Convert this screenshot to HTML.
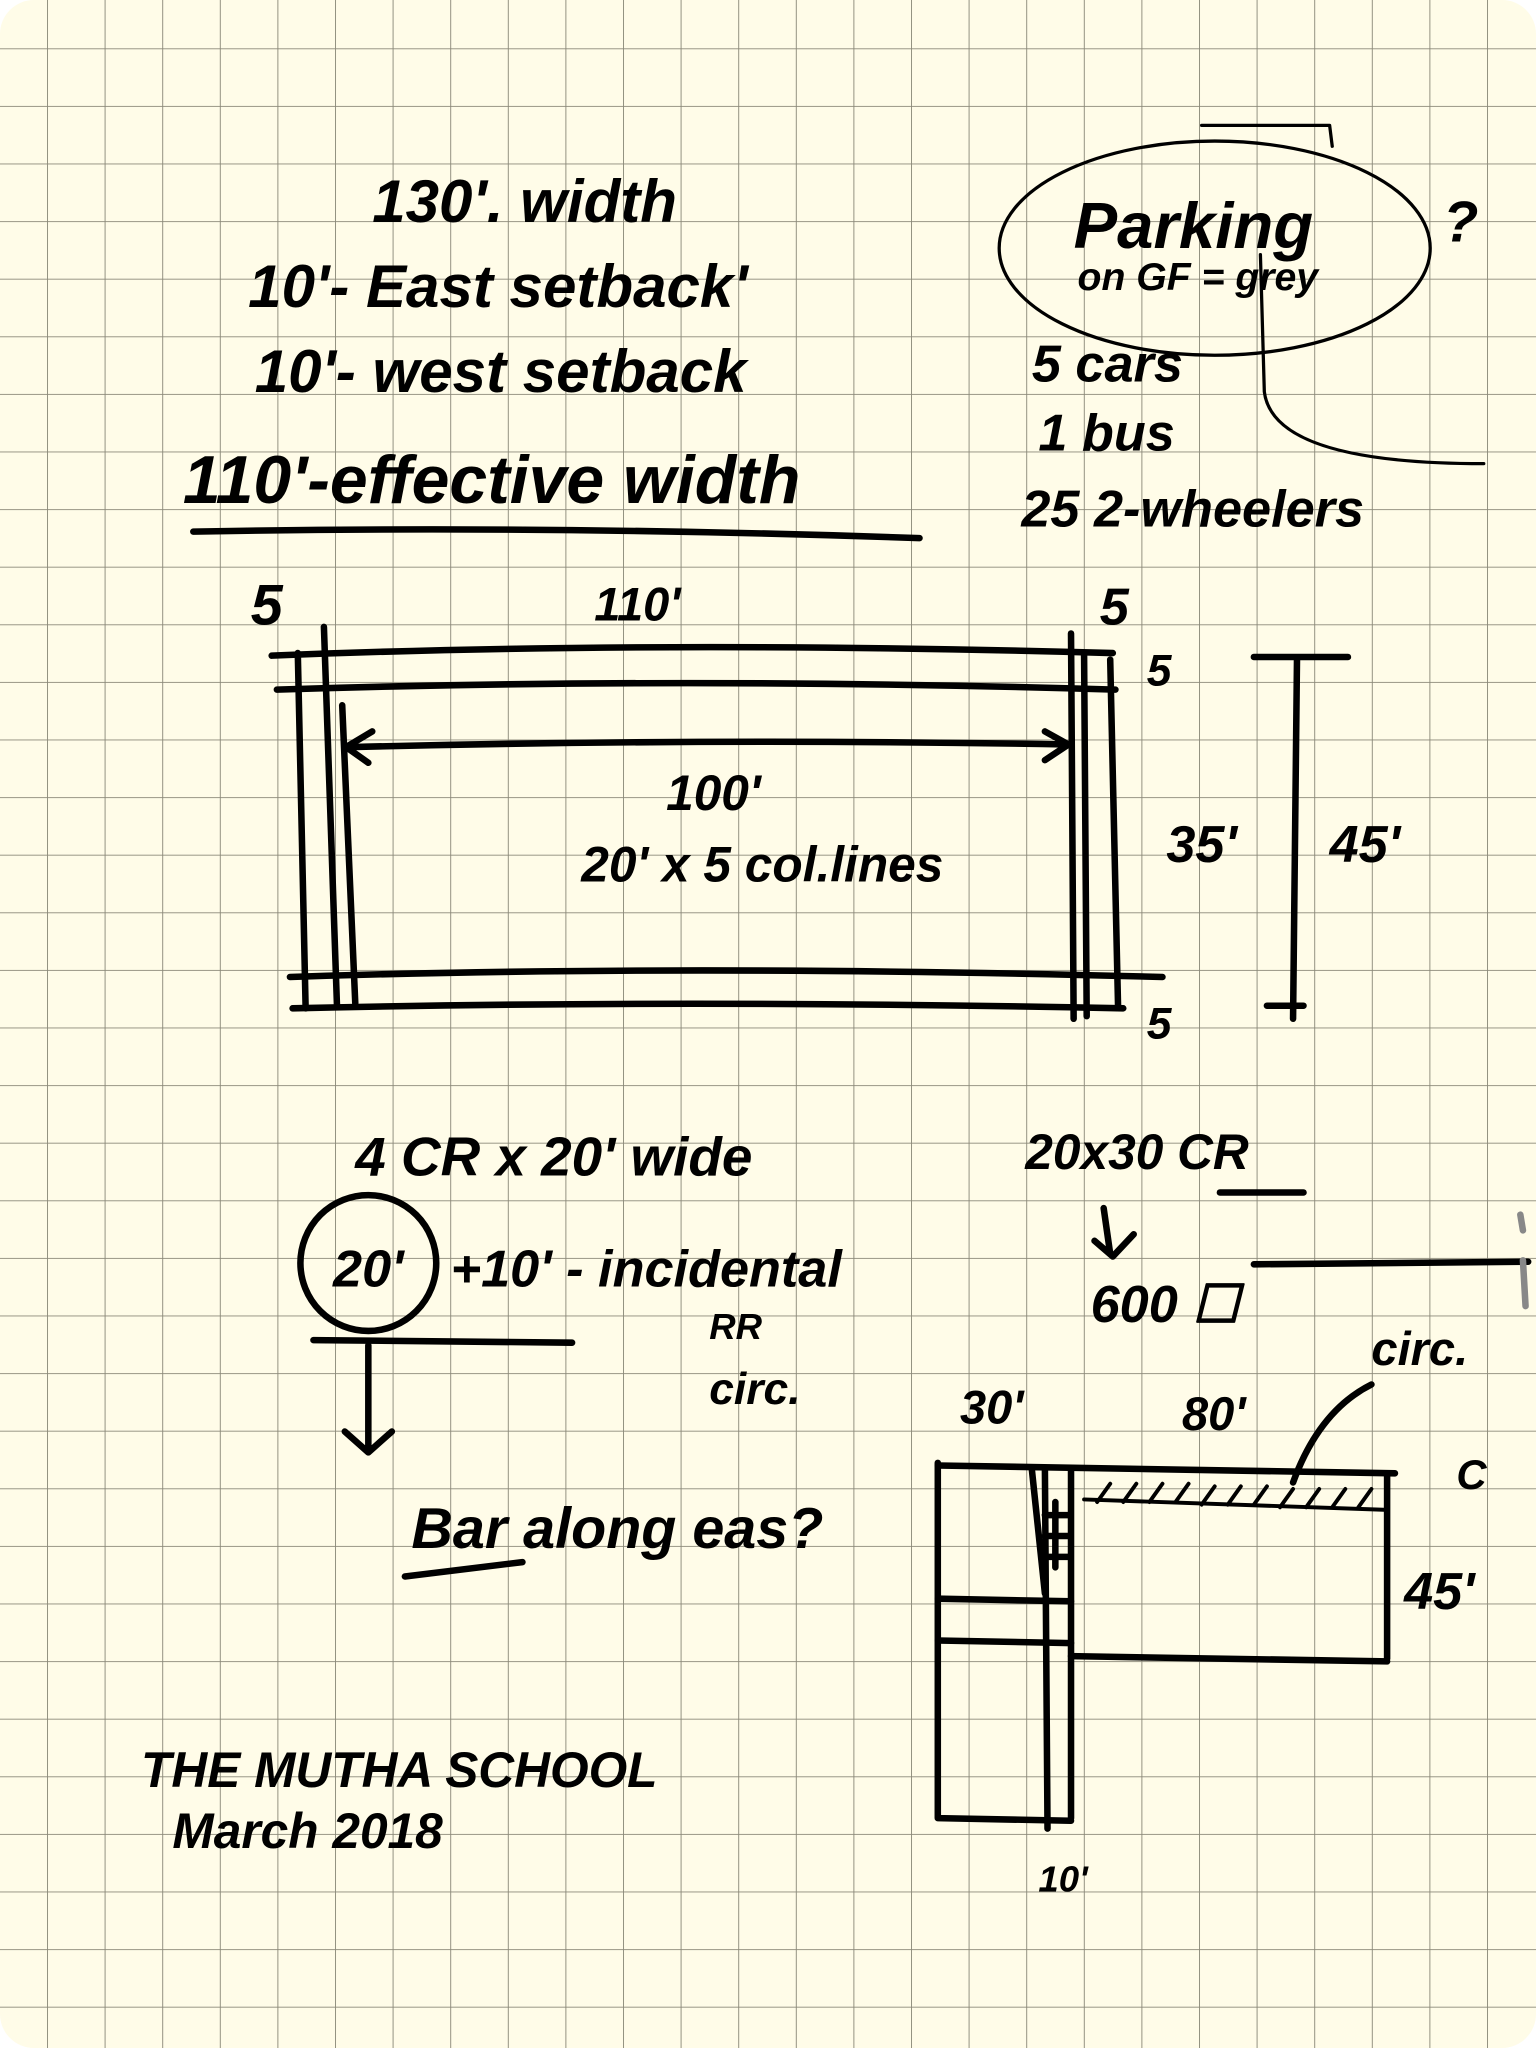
<!DOCTYPE html>
<html><head><meta charset="utf-8"><style>
html,body{margin:0;padding:0;background:#fff;}
svg{display:block;}
text{font-family:"Liberation Sans",sans-serif;font-style:italic;font-weight:bold;fill:#000;}
</style></head><body>
<svg width="1536" height="2048" viewBox="0 0 1176 1568" xmlns="http://www.w3.org/2000/svg">
<defs>
<pattern id="g" x="36" y="37" width="44.1" height="44.1" patternUnits="userSpaceOnUse">
<path d="M0 0H44.1M0 0V44.1" stroke="#8a8878" stroke-width="1.4" fill="none"/>
</pattern>
<clipPath id="c"><rect x="0" y="0" width="1176" height="1568" rx="26"/></clipPath>
</defs>
<g clip-path="url(#c)">
<rect width="1176" height="1568" fill="#fffce8"/>
<rect width="1176" height="1568" fill="url(#g)"/>
</g>
<g fill="none" stroke="#000" stroke-width="5" stroke-linecap="round" stroke-linejoin="round">
<!-- underline -->
<path d="M148 407 Q420 402 704 412"/>
<!-- ellipse -->
<ellipse cx="930" cy="190" rx="165" ry="82" stroke-width="2.5"/>
<path d="M965 195 L968 300 Q975 355 1136 355" stroke-width="2.5"/>
<path d="M920 96 L1018 96 L1020 112" stroke-width="2.5"/>
<!-- main rectangle -->
<path d="M208 502 Q500 490 852 500"/>
<path d="M212 528 Q520 518 854 528"/>
<path d="M222 748 Q520 738 890 748"/>
<path d="M224 772 Q520 765 860 772"/>
<path d="M228 500 L234 772"/>
<path d="M248 480 L258 770"/>
<path d="M262 540 L272 768"/>
<path d="M820 485 L822 780"/>
<path d="M830 500 L832 778"/>
<path d="M850 505 L856 770"/>
<path d="M268 572 Q540 565 818 570"/>
<path d="M285 560 L265 572 L282 584"/>
<path d="M800 560 L818 570 L800 582"/>
<path d="M960 503 L1032 503"/>
<path d="M993 505 L990 780"/>
<path d="M970 770 L998 770"/>
<!-- 20 circle -->
<circle cx="282" cy="967" r="52"/>
<path d="M240 1026 L438 1028"/>
<path d="M282 1030 L282 1108 M264 1096 L282 1112 L300 1096"/>
<path d="M310 1207 L400 1196"/>
<path d="M934 913 L998 913"/>
<path d="M845 925 L850 960 M838 950 L852 962 L868 945"/>
<path d="M960 968 L1170 966"/>
<!-- lower plan -->
<path d="M718 1122 L1068 1128"/>
<path d="M718 1120 L718 1392 L820 1394"/>
<path d="M800 1124 L802 1400"/>
<path d="M820 1125 L820 1392"/>
<path d="M1062 1130 L1062 1270"/>
<path d="M820 1268 L1062 1272"/>
<path d="M718 1224 L820 1226"/>
<path d="M718 1256 L820 1258"/>
<path d="M790 1125 L800 1220"/>
<path d="M800 1160 L818 1160 M800 1176 L818 1176 M800 1192 L818 1192 M808 1150 L808 1200"/>
<path d="M830 1148 L1062 1156" stroke-width="3"/>
<path d="M840 1150 l10 -14 M860 1150 l10 -14 M880 1150 l10 -14 M900 1150 l10 -14 M920 1152 l10 -14 M940 1152 l10 -14 M960 1152 l10 -14 M980 1154 l10 -14 M1000 1154 l10 -14 M1020 1154 l10 -14 M1040 1154 l10 -14" stroke-width="3"/>
<path d="M990 1135 Q1010 1080 1050 1060"/>
<path d="M1164 930 L1166 942 M1166 965 L1168 1000" stroke="#888"/>
</g>
<g font-size="46">
<text x="285" y="170">130'. width</text>
<text x="190" y="235">10'- East setback'</text>
<text x="195" y="300">10'- west setback</text>
<text x="140" y="385" font-size="52">110'-effective width</text>
<text x="822" y="190" font-size="50">Parking</text>
<text x="825" y="222" font-size="30">on GF = grey</text>
<text x="1105" y="185" font-size="44">?</text>
<text x="790" y="292" font-size="40">5 cars</text>
<text x="795" y="345" font-size="40">1 bus</text>
<text x="782" y="403" font-size="40">25 2-wheelers</text>
<text x="192" y="478" font-size="44">5</text>
<text x="455" y="475" font-size="36">110'</text>
<text x="842" y="478" font-size="40">5</text>
<text x="878" y="525" font-size="34">5</text>
<text x="510" y="620" font-size="38">100'</text>
<text x="445" y="675" font-size="38">20' x 5 col.lines</text>
<text x="893" y="660" font-size="40">35'</text>
<text x="1018" y="660" font-size="40">45'</text>
<text x="878" y="795" font-size="34">5</text>
<text x="272" y="900" font-size="42">4 CR x 20' wide</text>
<text x="785" y="895" font-size="38">20x30 CR</text>
<text x="255" y="985" font-size="40">20'</text>
<text x="345" y="985" font-size="40">+10' - incidental</text>
<text x="543" y="1025" font-size="28">RR</text>
<text x="543" y="1075" font-size="34">circ.</text>
<text x="835" y="1012" font-size="40">600 ☐</text>
<text x="1050" y="1045" font-size="36">circ.</text>
<text x="735" y="1090" font-size="36">30'</text>
<text x="905" y="1095" font-size="36">80'</text>
<text x="1115" y="1140" font-size="32">C</text>
<text x="315" y="1185" font-size="44">Bar along eas?</text>
<text x="1075" y="1232" font-size="40">45'</text>
<text x="108" y="1368" font-size="38">THE MUTHA SCHOOL</text>
<text x="132" y="1415" font-size="38">March 2018</text>
<text x="795" y="1448" font-size="28">10'</text>
</g>
</svg>
</body></html>
